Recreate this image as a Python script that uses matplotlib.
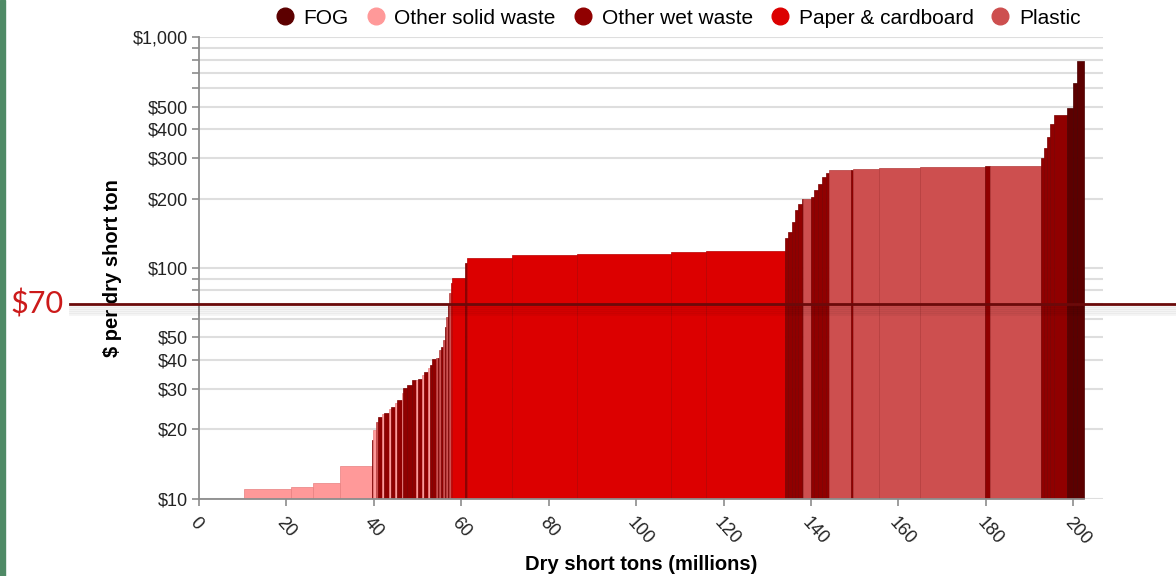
import numpy as np
import matplotlib
matplotlib.use("Agg")
import matplotlib.pyplot as plt
from matplotlib.lines import Line2D
from matplotlib.patches import Rectangle
from matplotlib.ticker import FixedLocator, FuncFormatter, NullLocator
import matplotlib.transforms as mtransforms
import matplotlib.patheffects as pe

plt.rcParams['font.family'] = ['Liberation Sans', 'DejaVu Sans']

# ---- supply curve data: one entry per source ----
start_tons = 10.43  # cumulative tons before the first visible source

kinds = ["S", "S", "S", "S",
         "W", "S", "P", "W", "S", "W", "S", "W", "S", "W", "S", "W", "W", "W",
         "S", "W", "S", "W", "S", "W", "W", "P", "W", "P", "W", "P", "W", "P",
         "W", "P", "C", "C", "W",
         "C", "C", "C", "C", "C",
         "W", "W", "W", "W", "W", "W", "P",
         "W", "W", "W", "W", "W",
         "P", "W", "P", "P", "P", "W", "P",
         "W", "W", "W", "W", "W",
         "F", "F", "F"]

tons = [10.68, 5.03, 6.17, 7.32,
        0.30, 0.61, 0.53, 0.78, 0.41, 1.33, 0.38, 0.92, 0.46, 1.07, 0.30, 0.84, 1.15, 0.98,
        0.46, 0.84, 0.42, 1.09, 0.28, 0.50, 0.98, 0.35, 0.41, 0.39, 0.52, 0.28, 0.34, 0.35,
        0.41, 0.27, 0.28, 3.04, 0.52,
        10.29, 14.73, 21.49, 8.01, 18.13,
        0.76, 0.77, 0.76, 0.75, 0.78, 0.23, 1.83,
        0.85, 0.85, 0.85, 0.85, 0.85,
        4.90, 0.45, 6.09, 9.30, 14.87, 1.14, 11.66,
        0.69, 0.68, 0.69, 0.98, 2.84,
        1.37, 0.98, 1.67]

price = [11.05, 11.2, 11.7, 13.9,
         17.9, 19.9, 21.6, 22.5, 23.3, 23.6, 24.6, 24.9, 26.0, 26.8, 28.6, 30.2, 31.1, 32.7,
         32.7, 32.9, 34.4, 35.5, 37.0, 37.9, 40.4, 40.6, 40.8, 44.1, 45.5, 48.8, 55.5, 61.5,
         69.0, 78.0, 86.0, 90.5, 105.0,
         111.0, 113.7, 115.5, 117.6, 118.5,
         134.5, 143.6, 159.0, 178.0, 190.0, 200.0, 200.0,
         204.0, 218.0, 232.0, 247.0, 259.0,
         265.0, 267.0, 268.7, 272.0, 274.0, 276.0, 277.5,
         300.0, 330.0, 370.0, 420.0, 460.0,
         492.0, 636.0, 792.0]

category_names = {"F": "FOG", "S": "Other solid waste", "W": "Other wet waste",
                  "C": "Paper & cardboard", "P": "Plastic"}
fill = {"F": "#5c0000", "S": "#ff9999", "W": "#900000", "C": "#dc0000", "P": "#cd4f4f"}
edge = {"F": "#4a0000", "S": "#e88080", "W": "#7a0000", "C": "#b80000", "P": "#b33c3c"}

y_ticks = [10, 20, 30, 40, 50, 60, 70, 80, 90, 100,
           200, 300, 400, 500, 600, 700, 800, 900, 1000]
y_labelled = [10, 20, 30, 40, 50, 100, 200, 300, 400, 500, 1000]
x_ticks = list(range(0, 201, 20))
threshold = 70

# ---- figure ----
W, H = 1176, 576
fig = plt.figure(figsize=(W / 100, H / 100), dpi=100)
ax = fig.add_axes([198.7 / W, 77.3 / H, 904 / W, 461.4 / H])

widths = np.array(tons)
left = start_tons + np.concatenate([[0], np.cumsum(widths)[:-1]])
heights = np.array(price)
bottom = 1.0
ax.bar(left, heights - bottom, width=widths, bottom=bottom, align="edge",
       color=[fill[k] for k in kinds], edgecolor=[edge[k] for k in kinds],
       linewidth=0.5, zorder=2)

ax.set_yscale("log")
ax.set_ylim(10, 1000)
ax.set_xlim(0, 206.7)

ax.yaxis.set_major_locator(FixedLocator(y_ticks))
ax.yaxis.set_minor_locator(NullLocator())
ax.yaxis.set_major_formatter(FuncFormatter(
    lambda v, p: "${:,.0f}".format(v) if round(v) in y_labelled else ""))
ax.xaxis.set_major_locator(FixedLocator(x_ticks))

ax.grid(axis="y", color="#dedede", linewidth=1.5, zorder=0)
ax.set_axisbelow(True)

for s in ["top", "right"]:
    ax.spines[s].set_visible(False)
for s in ["left", "bottom"]:
    ax.spines[s].set_color("#8c8c8c")
    ax.spines[s].set_linewidth(1.3)
ax.spines["bottom"].set_bounds(0, 202.5)

ax.tick_params(axis="both", direction="out", length=5, width=1.2, color="#8c8c8c",
               labelsize=13, labelcolor="#222222")
ax.tick_params(axis="y", pad=3)
ax.tick_params(axis="x", pad=6)
for lab in ax.get_xticklabels():
    lab.set_rotation(-48)
    lab.set_ha("left")
    lab.set_va("top")
    lab.set_rotation_mode("anchor")

ax.set_ylabel("$ per dry short ton", fontsize=14.5, fontweight="bold")
ax.yaxis.set_label_coords(-0.0848, 0.5)
ax.set_xlabel("Dry short tons (millions)", fontsize=14.5, fontweight="bold")
ax.xaxis.set_label_coords(0.489, -0.122)

# threshold line across the whole figure, with a soft shadow
tr = mtransforms.blended_transform_factory(fig.transFigure, ax.transData)
shadow = [pe.SimpleLineShadow(offset=(0, -k), shadow_color="#000000", alpha=0.045,
                              linewidth=2.0) for k in (1.5, 3, 4.5, 6, 7.5)]
thr = Line2D([70 / W, 1.0], [threshold, threshold], transform=tr, color="#6b0a0a",
             linewidth=2.0, clip_on=False, zorder=5,
             path_effects=shadow + [pe.Normal()])
fig.add_artist(thr)
fig.text(10 / W, threshold, "${}".format(threshold), transform=tr, color="#cc1a1a",
         fontsize=22, family=["Lato", "DejaVu Sans"], va="center", ha="left")

# legend
order = ["F", "S", "W", "C", "P"]
handles = [Line2D([], [], linestyle="none", marker="o", markersize=12,
                  markerfacecolor=fill[k], markeredgecolor=fill[k]) for k in order]
fig.legend(handles, [category_names[k] for k in order], loc="center",
           bbox_to_anchor=(678 / W, 1 - 18 / H), ncol=5, frameon=False,
           fontsize=15, handletextpad=0.45, columnspacing=0.85, handlelength=0.9)

# page edge strip
fig.add_artist(Rectangle((0, 0), 5 / W, 1, transform=fig.transFigure,
                         color="#4f8a66", zorder=0))

fig.savefig("out.png", dpi=100)
